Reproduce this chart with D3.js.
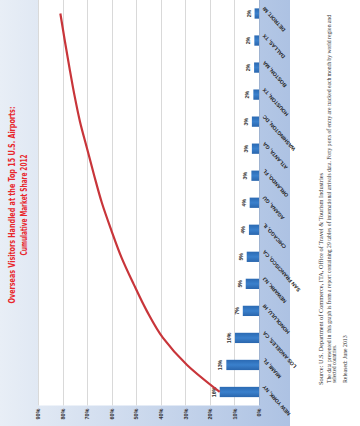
<!DOCTYPE html>
<html><head><meta charset="utf-8">
<script src="https://cdn.jsdelivr.net/npm/d3@7"></script>
<style>html,body{margin:0;padding:0;background:#fff;}svg{display:block;}</style>
</head><body>
<svg id="c" width="360" height="426"></svg>
<script>
// ---- data ----
const categories = ["NEW YORK, NY","MIAMI, FL","LOS ANGELES, CA","HONOLULU, HI","NEWARK, NJ","SAN FRANCISCO, CA","CHICAGO, IL","AGANA, GU","ORLANDO, FL","ATLANTA, GA","WASHINGTON, DC","HOUSTON, TX","BOSTON, MA","DALLAS, TX","DETROIT, MI"];
const shares = [16.0,13.3,9.8,6.6,5.4,5.0,4.1,3.8,3.1,2.9,2.9,2.3,2.0,1.9,1.8];
const shareLabels = ["16%","13%","10%","7%","5%","5%","4%","4%","3%","3%","3%","2%","2%","2%","2%"];
const cumulative = [16.0,29.3,39.1,45.7,51.1,56.1,60.2,64.0,67.1,70.0,72.9,75.2,77.2,79.1,80.9];
const tickValues = [0,10,20,30,40,50,60,70,80,90];
const titleLines = ["Overseas Visitors Handled at the Top 15 U.S. Airports:","Cumulative Market Share 2012"];
const sourceLines = ["Source: U.S. Department of Commerce, ITA, Office of Travel & Tourism Industries",
 "The data presented in this graph is from a report containing 29 tables of international arrivals data.  Forty ports of entry are tracked each month by world region and",
 "selected countries.",
 "Released: June 2013"];

// ---- drawing (chart drawn in landscape 426x360, then rotated) ----
const svg = d3.select("#c");
const defs = svg.append("defs");
const bg = defs.append("linearGradient").attr("id","bg").attr("x1",0).attr("y1",0).attr("x2",0).attr("y2",1);
bg.append("stop").attr("offset","0").attr("stop-color","#e8eef6");
bg.append("stop").attr("offset","1").attr("stop-color","#adc2e3");
const bar = defs.append("linearGradient").attr("id","bar").attr("x1",0).attr("y1",0).attr("x2",1).attr("y2",0);
bar.append("stop").attr("offset","0").attr("stop-color","#2a66ad");
bar.append("stop").attr("offset","0.5").attr("stop-color","#3a80cc");
bar.append("stop").attr("offset","1").attr("stop-color","#2b6ab3");

const W = 426;
const g = svg.append("g").attr("transform", `translate(0,${W}) rotate(-90)`);

// chart area background
g.append("rect").attr("x",0).attr("y",0).attr("width",W).attr("height",290).attr("fill","url(#bg)");

const x = d3.scaleBand().domain(categories).range([20.5, 426]).paddingInner(0.62).paddingOuter(0.31);
const y = d3.scaleLinear().domain([0,90]).range([259,38]);

// plot area
g.append("rect").attr("x",20.5).attr("y",y(90)).attr("width",426-20.5).attr("height",y(0)-y(90)).attr("fill","#fff");

// gridlines
g.append("g").selectAll("line").data(tickValues.filter(d=>d>0)).join("line")
 .attr("x1",20.5).attr("x2",426).attr("y1",d=>Math.round(y(d))+0.5).attr("y2",d=>Math.round(y(d))+0.5)
 .attr("stroke","#d9d9d9").attr("stroke-width",1);

// value axis labels
const yAxis = d3.axisLeft(y).tickValues(tickValues).tickFormat(d=>d+"%").tickSize(0).tickPadding(3);
const ya = g.append("g").attr("transform","translate(20.5,0)").call(yAxis);
ya.select(".domain").remove();
ya.selectAll("text").attr("font-family","Liberation Sans, Arial, sans-serif").attr("font-size",5.5).attr("font-weight","bold").attr("fill","#333");

// bars
g.append("g").selectAll("rect").data(shares).join("rect")
 .attr("x",(d,i)=>x(categories[i])).attr("width",x.bandwidth())
 .attr("y",d=>y(d)).attr("height",d=>y(0)-y(d)).attr("fill","url(#bar)");

// value labels
g.append("g").selectAll("text").data(shares).join("text")
 .attr("x",(d,i)=>x(categories[i])+x.bandwidth()/2).attr("y",d=>y(d)-4)
 .attr("text-anchor","middle").attr("font-family","Liberation Sans, Arial, sans-serif")
 .attr("font-size",5.2).attr("font-weight","bold").attr("fill","#333").text((d,i)=>shareLabels[i]);

// category labels
const xa = g.append("g").attr("transform",`translate(0,${y(0)})`)
 .call(d3.axisBottom(x).tickSize(0).tickPadding(0));
xa.select(".domain").attr("stroke","#9fb3d1");
xa.selectAll("text")
 .attr("font-family","Liberation Sans, Arial, sans-serif").attr("font-size",5.2).attr("font-weight","bold")
 .attr("fill","#222").attr("text-anchor","end").attr("dy",0).attr("y",0)
 .attr("transform","translate(7,6) rotate(-42)");

// cumulative line
const line = d3.line().x((d,i)=>x(categories[i])+x.bandwidth()/2).y(d=>y(d)).curve(d3.curveMonotoneX);
g.append("path").datum(cumulative).attr("d",line).attr("fill","none").attr("stroke","#c8353a").attr("stroke-width",2.2);

// title
g.append("g").selectAll("text").data(titleLines).join("text")
 .attr("x",221).attr("y",(d,i)=>[15,26.5][i]).attr("text-anchor","middle")
 .attr("font-family","Liberation Sans Narrow, DejaVu Sans Condensed, Arial, sans-serif")
 .attr("font-weight","bold").attr("font-size",9).attr("fill","#e8262c")
 .attr("textLength",(d,i)=>[197,101][i]).attr("lengthAdjust","spacingAndGlyphs").text(d=>d);

// source
const srcY = [322.5,331,336,346.5];
const srcSize = [6,5.2,5.2,5.8];
const srcLen = [212,368,null,null];
g.append("g").selectAll("text").data(sourceLines).join("text")
 .attr("x",(d,i)=>i==0?41:43).attr("y",(d,i)=>srcY[i])
 .attr("font-family","Liberation Serif, Times New Roman, serif").attr("font-size",(d,i)=>srcSize[i]).attr("fill","#333")
 .each(function(d,i){ if(srcLen[i]) d3.select(this).attr("textLength",srcLen[i]).attr("lengthAdjust","spacingAndGlyphs"); })
 .text(d=>d);
</script>
</body></html>
